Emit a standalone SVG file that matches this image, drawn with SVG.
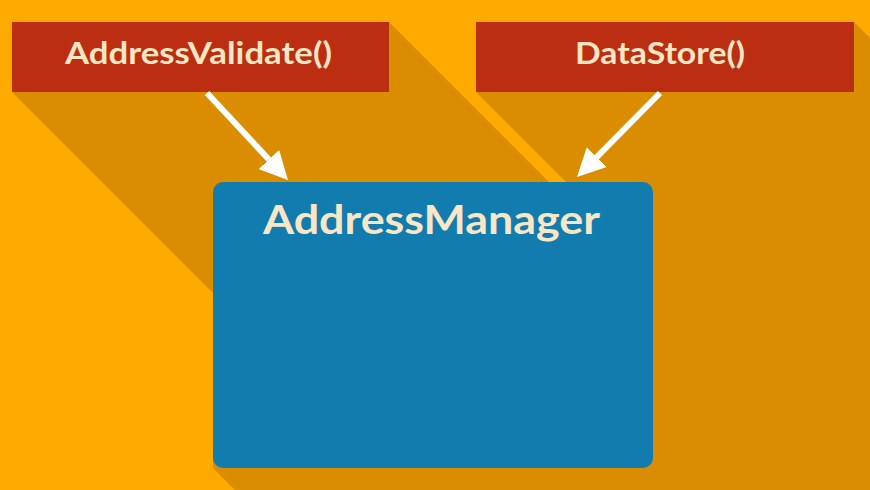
<svg xmlns="http://www.w3.org/2000/svg" width="870" height="490" viewBox="0 0 870 490">
  <style>
    .shadow { fill: #DA8D00; }
    .fn { fill: #BB2E12; }
    .mgr { fill: #137CAF; }
    .label { fill: #F9E6C4; font-family: Lato, "Open Sans", "Liberation Sans", sans-serif; font-weight: 700; text-anchor: middle; }
    .conn { stroke: #FFFFFF; stroke-width: 6; fill: none; }
  </style>
  <defs>
    <marker id="head" viewBox="0 0 28 28" refX="0" refY="14" markerWidth="28" markerHeight="28" markerUnits="userSpaceOnUse" orient="auto">
      <path d="M0,0 L28,14 L0,28 Z" fill="#FFFFFF"/>
    </marker>
  </defs>
  <rect width="870" height="490" fill="#FFAA00"/>
  <g id="shadows">
    <polygon class="shadow" points="12,92 12,22 389,22 989,622 612,692"/>
    <polygon class="shadow" points="476,92 476,22 854,22 1454,622 1076,692"/>
    <polygon class="shadow" points="213,468 213,182 653,182 1253,782 813,1068"/>
  </g>
  <g id="AddressValidate">
    <rect class="fn" x="12" y="22" width="377" height="70"/>
    <text class="label" x="198.5" y="64" font-size="30" textLength="267" lengthAdjust="spacingAndGlyphs">AddressValidate()</text>
  </g>
  <g id="DataStore">
    <rect class="fn" x="476" y="22" width="378" height="70"/>
    <text class="label" x="660" y="64" font-size="30" textLength="170" lengthAdjust="spacingAndGlyphs">DataStore()</text>
  </g>
  <g id="AddressManager">
    <rect class="mgr" x="213" y="182" width="440" height="286" rx="10" ry="10"/>
    <text class="label" x="431.5" y="234" font-size="40" textLength="337" lengthAdjust="spacingAndGlyphs">AddressManager</text>
  </g>
  <g id="connectors">
    <line class="conn" x1="207" y1="93" x2="268.9" y2="159.5" marker-end="url(#head)"/>
    <line class="conn" x1="660" y1="93" x2="596.7" y2="157.1" marker-end="url(#head)"/>
  </g>
</svg>
